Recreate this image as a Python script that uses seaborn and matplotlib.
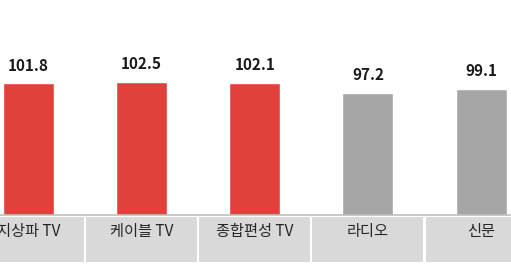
import matplotlib
matplotlib.use("Agg")
import matplotlib.pyplot as plt
import seaborn as sns
import pandas as pd

categories = ["지상파 TV", "케이블 TV", "종합편성 TV", "라디오", "신문"]
values = [101.8, 102.5, 102.1, 97.2, 99.1]
bar_colors = ["#E0413A", "#E0413A", "#E0413A", "#A6A6A6", "#A6A6A6"]
value_labels = ["101.8", "102.5", "102.1", "97.2", "99.1"]

sns.set_theme(style="white")
plt.rcParams["font.family"] = ["Noto Sans CJK KR", "DejaVu Sans"]

W, H = 511, 264
fig = plt.figure(figsize=(W / 100, H / 100), dpi=100)
fig.patch.set_facecolor("white")

base_px = 215
ax = fig.add_axes([0, (H - base_px) / H, 1, base_px / H])
df = pd.DataFrame({"cat": categories, "val": values})
sns.barplot(data=df, x="cat", y="val", hue="cat", palette=bar_colors,
            legend=False, width=0.45, ax=ax, saturation=1)
ax.set_ylim(36, 36 + base_px / 2.0)
ax.set_xlim(-0.25, 4.264)
for s in ["top", "right", "left"]:
    ax.spines[s].set_visible(False)
ax.spines["bottom"].set_color("#BFBFBF")
ax.spines["bottom"].set_linewidth(1.2)
ax.set_xticks([])
ax.set_yticks([])
ax.set_xlabel("")
ax.set_ylabel("")

for i, (v, lab) in enumerate(zip(values, value_labels)):
    ax.annotate(lab, (i, v), xytext=(0, 9.2), textcoords="offset points",
                ha="center", va="baseline", fontsize=11, fontweight="bold",
                color="#1a1a1a")

# label boxes
box_top, box_bot = 217, 262
ax2 = fig.add_axes([0, (H - box_bot) / H, 1, (box_bot - box_top) / H])
ax2.bar(range(len(categories)), [1] * len(categories), width=0.982,
        color="#D9D9D9", linewidth=0)
ax2.set_xlim(-0.25, 4.264)
ax2.set_ylim(0, 1)
ax2.axis("off")
for i, c in enumerate(categories):
    ax2.text(i, 1 - 14.5 / 45, c, ha="center", va="center", fontsize=11,
             fontweight="medium", color="#262626")

fig.savefig("out.png", dpi=100, facecolor="white")
